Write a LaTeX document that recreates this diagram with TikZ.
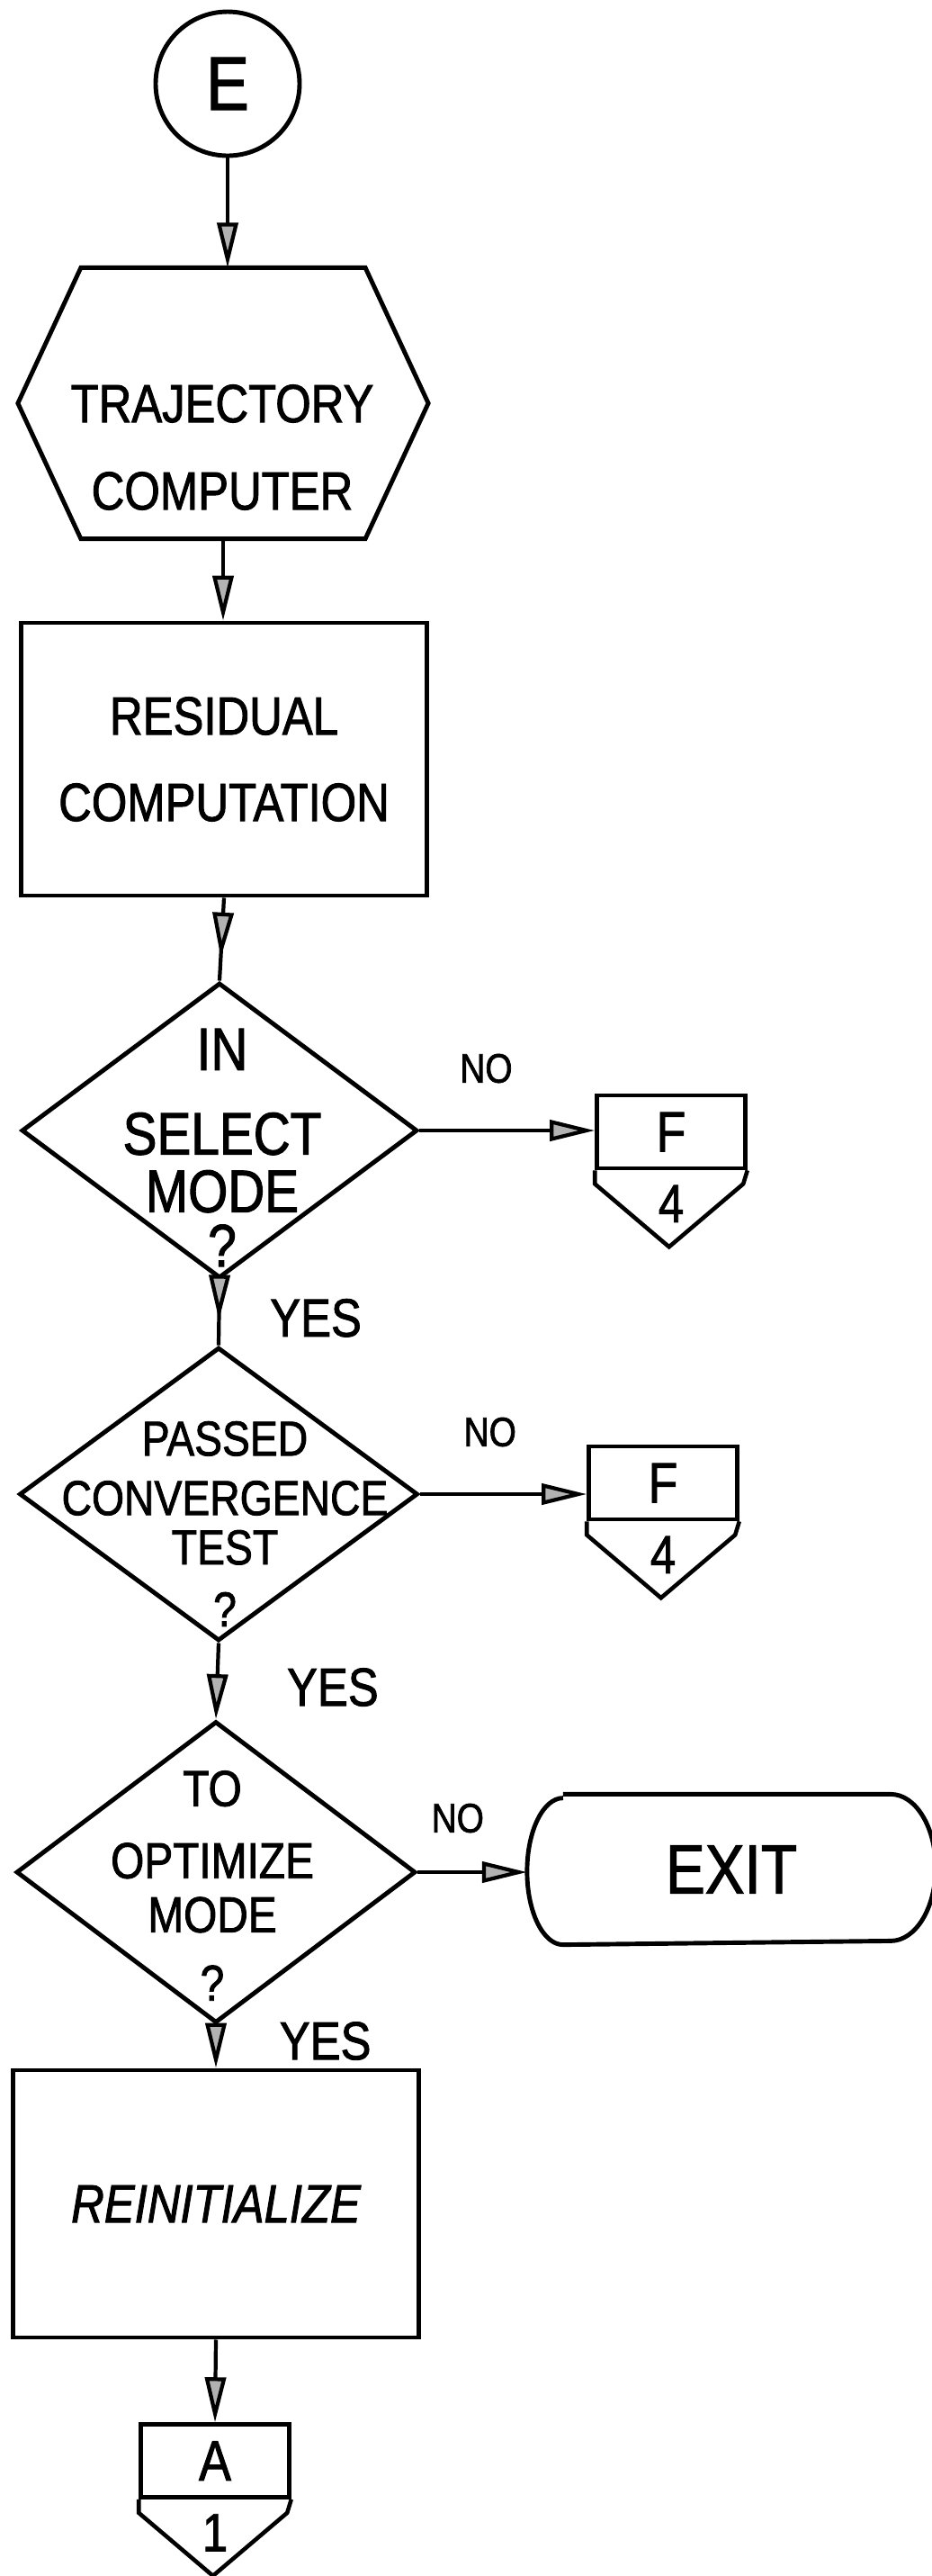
\documentclass[tikz,border=0pt]{standalone}
\usepackage{fontspec}
\usepackage{tikz}
\usetikzlibrary{arrows.meta,shapes.geometric,decorations.markings}
\newfontfamily\handfont[FakeStretch=0.85,FakeBold=1.5]{Liberation Sans}
\newcommand{\lettering}[2]{\handfont\fontsize{#1}{#2}\selectfont}
\tikzset{flowtip/.tip={Triangle[length=5mm,width=2.3mm,fill=black!30]}}
% off-page connector: name, centre of the letter box, letter, page number
\newcommand{\offpage}[4]{%
  \node[conbox] (#1) at (#2) {#3};
  \draw[line width=1.3pt] (#1.south west) -- ++(0,-0.15) -- ++(0.825,-0.7)
    -- ++(0.825,0.7) -- (#1.south east);
  \node[lbl,font=\lettering{17}{17}] (#1num) at ([yshift=-0.37cm]#1.south) {#4};
}

\begin{document}
\begin{tikzpicture}[line width=1.2pt,
  box/.style={draw,rectangle,line width=1.4pt,inner sep=0pt,align=center,
    minimum width=4.51cm},
  decision/.style={draw,diamond,line width=1.4pt,inner sep=0pt},
  conbox/.style={draw,rectangle,line width=1.3pt,inner sep=0pt,
    minimum width=1.65cm,minimum height=0.81cm,font=\lettering{18}{18}},
  lbl/.style={inner sep=0pt,align=center},
  flow/.style={-flowtip},
  midflow/.style={postaction={decorate},decoration={markings,
    mark=at position #1 with {\arrow{flowtip}}}}]
  \useasboundingbox (0,0) rectangle (10.36,-28.62);

  \node[draw,circle,line width=1.4pt,minimum size=1.6cm,inner sep=0pt,
    font=\lettering{24}{24}] (entry) at (2.53,-0.93) {E};

  \node[minimum width=4.52cm,minimum height=2.97cm,inner sep=0pt] (traj) at (2.48,-4.48) {};
  \draw[line width=1.4pt] ([xshift=0.7cm]traj.north west) -- ([xshift=-0.7cm]traj.north east)
    -- (traj.east) -- ([xshift=-0.7cm]traj.south east)
    -- ([xshift=0.7cm]traj.south west) -- (traj.west) -- cycle;
  \node[lbl,font=\lettering{17}{27.6}] (trajtext) at (2.47,-4.97) {TRAJECTORY\\COMPUTER};

  \node[box,minimum height=3.03cm,font=\lettering{17}{27.3}] (resid) at (2.49,-8.435)
    {RESIDUAL\\COMPUTATION};

  \node[decision,minimum width=4.40cm,minimum height=3.28cm] (selmode) at (2.44,-12.56) {};
  \node[lbl,font=\lettering{19}{19}] (seltext) at (2.47,-12.75)
    {IN\\[7.7pt]SELECT\\[-0.8pt]MODE\\[-1.8pt]?};

  \node[decision,minimum width=4.43cm,minimum height=3.26cm] (conv) at (2.43,-16.60) {};
  \node[lbl,font=\lettering{15.5}{18}] (convtext) at (2.50,-16.93)
    {PASSED\\[0.8pt]CONVERGENCE\\[-2.4pt]TEST\\[1.6pt]?};

  \node[decision,minimum width=4.44cm,minimum height=3.35cm] (optmode) at (2.40,-20.80) {};
  \node[lbl,font=\lettering{16}{20}] (opttext) at (2.36,-20.95)
    {TO\\[2.8pt]OPTIMIZE\\[-2.9pt]MODE\\[1.6pt]?};

  \node[minimum width=4.50cm,minimum height=1.63cm,inner sep=0pt,
    font=\lettering{22}{22}] (exit) at (8.13,-20.77) {EXIT};
  \draw[line width=1.4pt] ([xshift=0.4cm]exit.north west) -- ([xshift=-0.5cm]exit.north east)
    arc[start angle=90,end angle=-90,x radius=0.5cm,y radius=0.815cm]
    -- ([xshift=0.4cm]exit.south west)
    arc[start angle=270,end angle=90,x radius=0.4cm,y radius=0.815cm];

  \node[box,minimum height=2.97cm,font=\lettering{17}{17}\itshape] (reinit) at (2.40,-24.485)
    {REINITIALIZE};

  \offpage{fsel}{7.46,-12.575}{F}{4}
  \offpage{fconv}{7.37,-16.475}{F}{4}
  \offpage{back}{2.39,-27.34}{A}{1}

  \draw[flow] (entry.south) -- (entry.south |- traj.north);
  \draw[flow] (traj.south) -- (traj.south |- resid.north);
  \draw[midflow=0.72] (resid.south) -- (selmode.north);
  \draw[midflow=0.61] (selmode.south) -- (conv.north)
    node[pos=0.58,right=0.43cm,font=\lettering{17}{17}] {YES};
  \draw[flow] (conv.south) -- (optmode.north)
    node[pos=0.58,right=0.64cm,font=\lettering{17}{17}] {YES};
  \draw[flow] (optmode.south) -- (reinit.north)
    node[pos=0.37,right=0.57cm,font=\lettering{17}{17}] {YES};
  \draw[flow] (reinit.south) -- (back.north);

  \draw[flow] (selmode.east) -- (selmode.east -| fsel.west)
    node[pos=0.38,above=0.39cm,font=\lettering{13}{13}] {NO};
  \draw[flow] (conv.east) -- (conv.east -| fconv.west)
    node[pos=0.42,above=0.39cm,font=\lettering{13}{13}] {NO};
  \draw[flow] (optmode.east) -- (optmode.east -| exit.west)
    node[pos=0.365,above=0.30cm,font=\lettering{13}{13}] {NO};
\end{tikzpicture}
\end{document}
